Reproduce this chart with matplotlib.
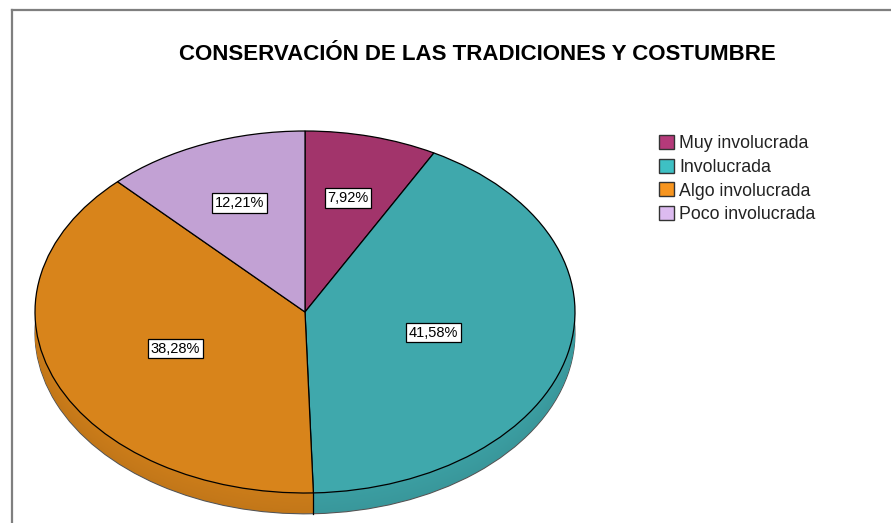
import numpy as np
import matplotlib.pyplot as plt
from matplotlib.patches import Patch
from matplotlib.lines import Line2D
from matplotlib.colors import to_rgb

plt.rcParams['font.family'] = ['Liberation Sans', 'DejaVu Sans']

# datos
categorias = ['Muy involucrada', 'Involucrada', 'Algo involucrada', 'Poco involucrada']
porcentajes = [7.92, 41.58, 38.28, 12.21]
colores = ['#A2346B', '#3FA8AC', '#D8841B', '#C2A1D4']
colores_leyenda = ['#B53A7A', '#3EC0C4', '#F7951F', '#DCBBF0']
titulo = 'CONSERVACIÓN DE LAS TRADICIONES Y COSTUMBRE'

W, H = 891, 523
fig = plt.figure(figsize=(W / 100, H / 100), dpi=100)

# marco gris
fig.add_artist(Line2D([12 / W, 12 / W], [-0.01, 1 - 10 / H], transform=fig.transFigure,
                      color='#7f7f7f', lw=1.6))
fig.add_artist(Line2D([12 / W, 1.01], [1 - 10 / H, 1 - 10 / H], transform=fig.transFigure,
                      color='#7f7f7f', lw=1.6))

# geometria en pixeles
cx, cy = 305, 312        # centro (desde arriba)
rx, ry = 270, 181        # semiejes
prof = 0.115             # grosor del "disco" en unidades de datos
xlo, xhi = -1.03, 1.03
ylo, yhi = -1.0 - prof - 0.03, 1.03
ax = fig.add_axes([(cx + xlo * rx) / W, (H - cy + ylo * ry) / H,
                   (xhi - xlo) * rx / W, (yhi - ylo) * ry / H])

def oscurecer(c, f):
    return tuple(v * f for v in to_rgb(c))

# lateral del disco: capas apiladas
capas = 24
for k in range(capas, 0, -1):
    d = prof * k / capas
    f = 0.90 + 0.04 * (1 - k / capas)
    lw = 0.8 if k == capas else 0
    ax.pie(porcentajes, colors=[oscurecer(c, f) for c in colores], startangle=90,
           counterclock=False, center=(0, -d), radius=1,
           wedgeprops=dict(linewidth=lw, edgecolor='#555555'))

# costuras laterales entre sectores
acum = np.cumsum([0] + porcentajes)
for a in acum[1:-1]:
    th = np.deg2rad(90 - a / 100 * 360)
    if np.sin(th) < 0:
        x, y = np.cos(th), np.sin(th)
        ax.plot([x, x], [y, y - prof], color='black', lw=0.9)

# cara superior
wedges, _ = ax.pie(porcentajes, colors=colores, startangle=90, counterclock=False,
                   radius=1, wedgeprops=dict(linewidth=0.9, edgecolor='black'))

# etiquetas
dist = [0.65, 0.49, 0.52, 0.65]
for w, p, r in zip(wedges, porcentajes, dist):
    th = np.deg2rad((w.theta1 + w.theta2) / 2)
    ax.text(r * np.cos(th), r * np.sin(th), f'{p:.2f}%'.replace('.', ','),
            ha='center', va='center', fontsize=10.5, color='black',
            bbox=dict(boxstyle='square,pad=0.18', fc='white', ec='black', lw=0.9))

ax.set_aspect('auto')
ax.set_xlim(xlo, xhi)
ax.set_ylim(ylo, yhi)
ax.axis('off')

fig.text(477 / W, 1 - 54 / H, titulo, ha='center', va='center',
         fontsize=16, fontweight='bold', color='black')

handles = [Patch(facecolor=c, edgecolor='#333333', lw=1.0) for c in colores_leyenda]
fig.legend(handles, categorias, loc='upper left', bbox_to_anchor=(659 / W, 1 - 135 / H),
           frameon=False, fontsize=12.8, handlelength=0.85, handleheight=0.85,
           handletextpad=0.3, labelspacing=0.36, borderaxespad=0, borderpad=0,
           labelcolor='#222222')

fig.savefig('out.png', dpi=100)
